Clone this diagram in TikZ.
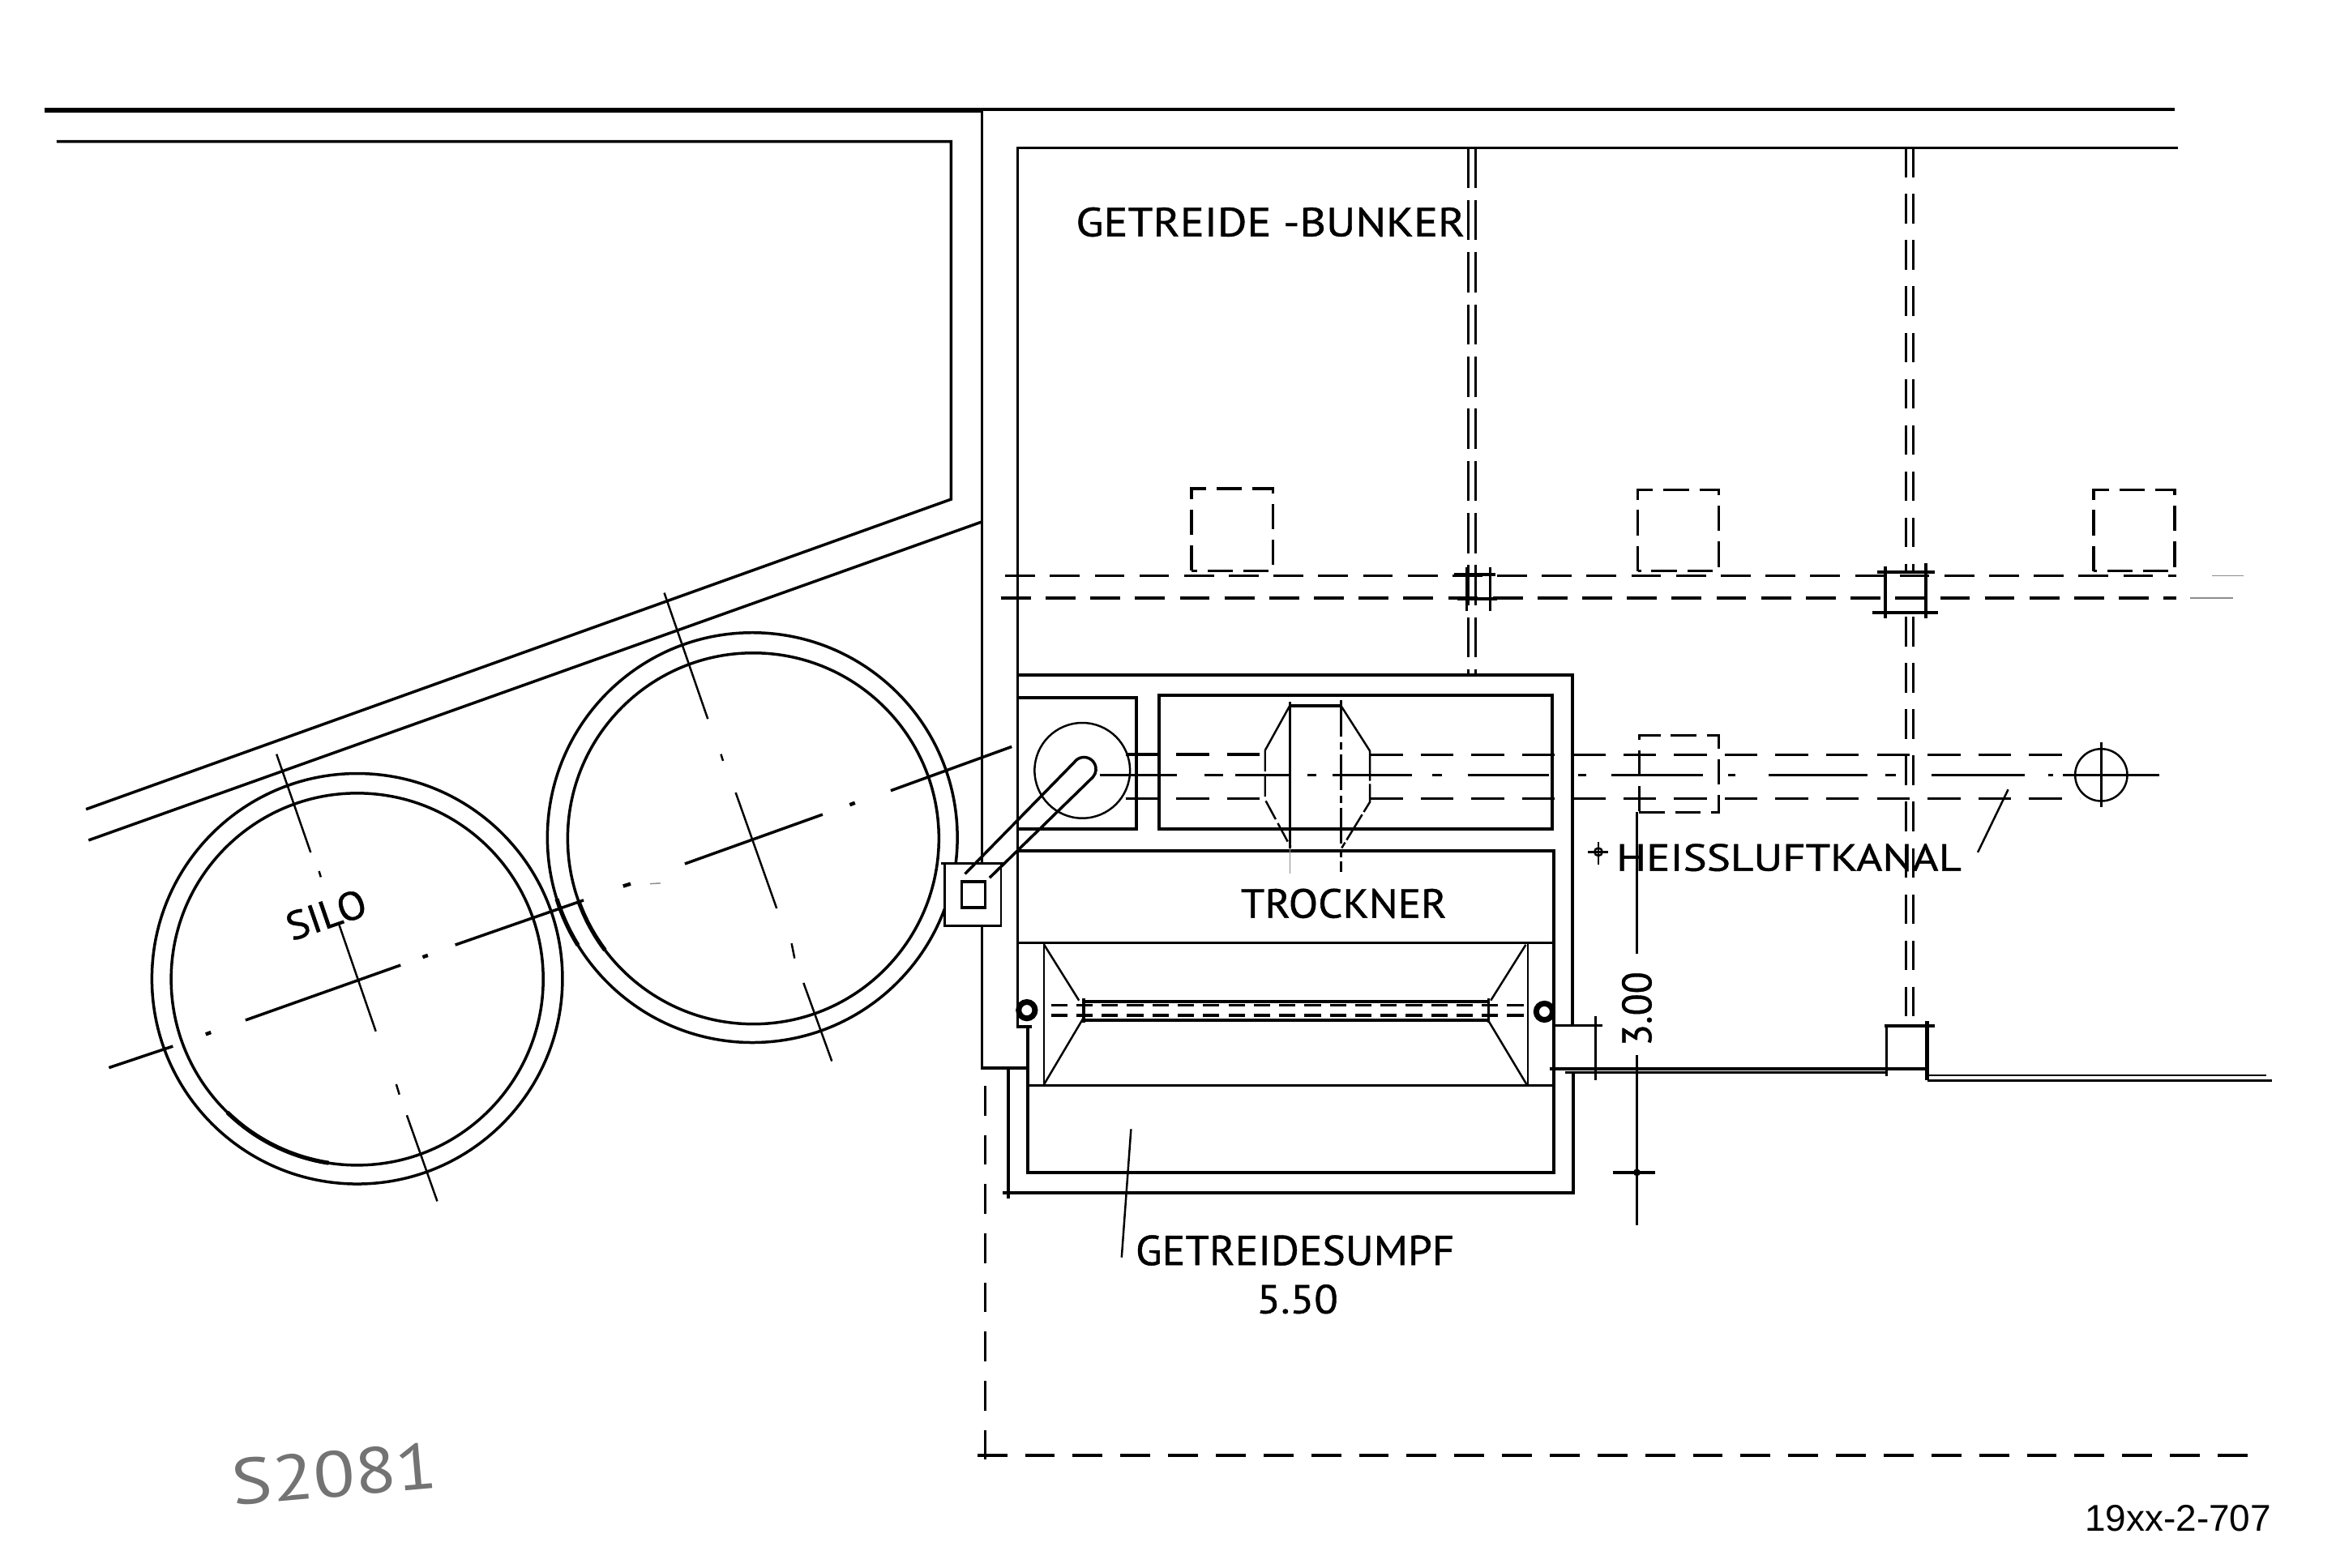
\documentclass[tikz,border=0pt]{standalone}
\usepackage{graphicx}
\usepackage{fontspec}
\setmainfont{Liberation Sans}
\newfontfamily\draftfont[FakeBold=0.8]{PT Sans}
\newfontfamily\handfont{PT Sans}
\newcommand{\lettered}[3]{\resizebox{#1pt}{#2pt}{\draftfont #3}}
\newcommand{\handwritten}[3]{\resizebox{#1pt}{#2pt}{\handfont #3}}
\tikzset{
  wall/.style={line width=1.9pt,black},
  thinline/.style={line width=1.35pt,black},
  heavy/.style={line width=3pt,black},
  hiddenline/.style={line width=1.8pt,black,dash pattern=on 20pt off 10pt},
  gridline/.style={line width=1.6pt,black,dash pattern=on 27pt off 8pt},
  gridlineb/.style={line width=1.6pt,black,dash pattern=on 20pt off 11pt},
  squaredash/.style={line width=1.8pt,black,dash pattern=on 17pt off 7pt},
  ductline/.style={line width=1.8pt,black,dash pattern=on 22pt off 12pt},
  troughdash/.style={line width=1.7pt,black,dash pattern=on 11pt off 6pt},
  faint/.style={line width=.8pt,black!45},
  label/.style={inner sep=0pt,outer sep=0pt,text=black}
}
\begin{document}
\begin{tikzpicture}[x=1pt,y=-1pt]
\useasboundingbox (0,0) rectangle (1567,1052);
\fill[white] (0,0) rectangle (1567,1052);

% upper wall lines
\draw[heavy] (30,74) -- (658.6,74);
\draw[wall] (658.6,73.3) -- (1459,73.3);
\draw[wall] (38,95) -- (638,95) -- (638,335) -- (57.7,543);
\draw[wall] (659,350) -- (59.4,563.8);
\draw[wall] (1461,99.2) -- (682.6,99.2) -- (682.6,688.8);
\draw[wall] (658.8,73.3) -- (658.8,580);
\draw[wall] (658.8,621) -- (658.8,716.5) -- (689.4,716.5);

% silos
\draw[wall] (239.6,656.7) circle[radius=137.7];
\draw[wall] (239.6,657) circle[radius=124.8];
\draw[wall] (504.7,562) circle[radius=137.5];
\draw[wall] (505.3,562.6) circle[radius=124.5];
\draw[line width=2.8pt] (239.6,657) ++(98.8:124.8) arc[start angle=98.8,end angle=134.3,radius=124.8];
\draw[line width=2.8pt] (505.3,562.6) ++(143:124.5) arc[start angle=143,end angle=160,radius=124.5];
\draw[line width=2.8pt] (504.7,562) ++(148.3:137.5) arc[start angle=148.3,end angle=162.6,radius=137.5];

% silo axes
\draw[wall] (73.1,716.4) -- (116,702);
\draw[wall,line width=2.4pt] (138,694) -- (141.5,692.7);
\draw[wall] (164.7,684.5) -- (268.7,647.6);
\draw[wall,line width=2.4pt] (283.5,642.2) -- (287,641);
\draw[wall] (305.4,634) -- (391.5,604);
\draw[wall,line width=2.4pt] (418,594.6) -- (423,593);
\draw[faint] (436,593) -- (443,592.6);
\draw[wall] (459.4,579.6) -- (551.8,546.5);
\draw[wall,line width=2.4pt] (570,540) -- (573.5,538.7);
\draw[wall] (597.5,530.5) -- (678.7,501);
\draw[thinline] (185.5,506) -- (208.4,572);
\draw[thinline] (214,584.5) -- (215.2,588.5);
\draw[thinline] (227.1,619.3) -- (252.1,692);
\draw[thinline] (265.8,727.5) -- (267.9,734.4);
\draw[thinline] (272.9,748.3) -- (293.3,806);
\draw[thinline] (445.6,397.8) -- (474.8,482.4);
\draw[thinline] (483.6,506) -- (485,510.5);
\draw[thinline] (493.5,531.8) -- (521,609.5);
\draw[thinline] (531,633) -- (533,643);
\draw[thinline] (539,659.5) -- (558,712);

% discharge box beside the right silo
\node[draw=black,line width=1.5pt,fill=white,minimum width=37.7pt,minimum height=41.6pt,inner sep=0pt] (chute) at (652.7,600.2) {};
\node[draw=black,line width=1.9pt,minimum width=15.7pt,minimum height=17.5pt,inner sep=0pt] (chuteinner) at (652.9,600.2) {};
\draw[wall] (631,579.4) -- (673,579.4);

% outer pit wall
\draw[wall] (682.6,452.8) -- (1054.7,452.8) -- (1054.7,688);
\draw[wall] (1055.3,718.8) -- (1055.3,800.3) -- (672.8,800.3);
\draw[wall] (676.3,716.5) -- (676.3,804.4);

% elevator box
\draw[wall,line width=2.2pt] (682.6,468.3) -- (762.2,468.3) -- (762.2,556) -- (682.6,556);
\draw[thinline] (726,517) circle[radius=32];
\draw[wall,line width=1.9pt] (647.3,586.4) -- (720.6,511.5) arc[start angle=-145,end angle=42,radius=8] -- (663.8,589);

% drier casing
\draw[wall,line width=2.2pt] (777.5,466.5) rectangle (1041.3,556.4);
\draw[wall] (682.6,571) -- (1042.2,571) -- (1042.2,786.7) -- (689.4,786.7) -- (689.4,688.8);
\draw[wall] (682.6,632.6) -- (1042.2,632.6);
\draw[wall] (689.4,728.2) -- (1042.2,728.2);
\draw[wall] (681.6,688.8) -- (692,688.8);

% octagonal housing
\draw[wall,line width=2.2pt] (865.2,473.5) -- (899.5,473.5);
\draw[thinline] (865.2,473.5) -- (848.6,503.5);
\draw[thinline,dash pattern=on 14pt off 3pt] (848.6,503.5) -- (848.6,536.5) -- (865.8,568.4);
\draw[thinline] (899.5,473.5) -- (919,504);
\draw[thinline,dash pattern=on 20pt off 2pt] (919,504) -- (919,538) -- (900,569);
\draw[wall] (865.2,471) -- (865.2,569);
\draw[faint] (865.2,569) -- (865.2,586);
\draw[wall,dash pattern=on 24pt off 4pt on 5pt off 3pt] (899.5,470) -- (899.5,585);

% hot air duct
\draw[ductline] (755,506.2) -- (848.6,506.2);
\draw[ductline] (919,506.4) -- (1392,506.4);
\draw[ductline] (755,535.8) -- (848.6,535.8);
\draw[ductline] (919,536) -- (1395,536);
\foreach \a/\b in {737.8/789.3,808/820.6,828.4/864.3,876.8/883,894/947,960.8/967,984.4/1039,1058.7/1064,1080.9/1142.2,1159/1164.3,1186.4/1252.8,1264.7/1271.6,1295.4/1358.4,1373.7/1377,1384/1448.6}
  \draw[wall] (\a,520.2) -- (\b,520.2);
\draw[squaredash] (1099.6,545) -- (1153,545) -- (1153,493.6) -- (1099.6,493.6) -- (1099.6,550);
\draw[thinline] (1409.5,520) circle[radius=17.5];
\draw[thinline] (1409.5,498.3) -- (1409.5,541.4);

% hopper and screw trough
\draw[thinline] (700.4,633) -- (700.4,728);
\draw[thinline] (700.4,633.9) -- (723.8,671.3);
\draw[thinline] (726.3,683.8) -- (700.4,727.5);
\draw[thinline] (1025,633) -- (1025,728);
\draw[thinline] (1023.5,633.9) -- (1000,671.3);
\draw[thinline] (998.5,685) -- (1024,727.5);
\draw[wall,line width=2pt] (726.9,672) -- (998.5,672);
\draw[wall,line width=2pt] (726.9,684.5) -- (998.5,684.5);
\draw[wall] (726.9,670) -- (726.9,686);
\draw[wall] (998.5,670) -- (998.5,686);
\draw[troughdash] (705,674.3) -- (1026.6,674.3);
\draw[troughdash] (705,681.3) -- (1026.6,681.3);
\draw[line width=3.8pt,fill=white] (688.8,677.8) circle[radius=5.5];
\draw[line width=3.8pt,fill=white] (1036,678.8) circle[radius=5.5];

% grid lines and columns
\draw[hiddenline] (674.3,386.2) -- (1460,386.2);
\draw[hiddenline] (671.4,401.3) -- (1460,401.3);
\draw[faint] (1484,386.2) -- (1505,386.2);
\draw[faint] (1469,401.3) -- (1498,401.3);
\draw[gridline] (985,99.2) -- (985,452);
\draw[gridline] (989.9,99.2) -- (989.9,452);
\draw[wall] (983.8,380.8) -- (983.8,410);
\draw[wall] (999.6,380.8) -- (999.6,410);
\draw[wall,line width=2.3pt] (975.3,385.6) -- (1003.2,385.6);
\draw[wall,line width=2.3pt] (977.7,402) -- (1004.4,402);
\draw[gridlineb] (1278.4,99.2) -- (1278.4,383);
\draw[gridlineb] (1283.5,99.2) -- (1283.5,383);
\draw[gridlineb] (1278.4,414) -- (1278.4,687);
\draw[gridlineb] (1283.5,414) -- (1283.5,687);
\draw[wall,line width=2pt] (1264.7,380) -- (1264.7,415);
\draw[wall,line width=2pt] (1292,378) -- (1292,415);
\draw[wall,line width=2.3pt] (1259,383.7) -- (1298,383.7);
\draw[wall,line width=2.3pt] (1256,411) -- (1300,411);
\draw[wall] (1265.4,688.4) -- (1265.4,722);
\draw[wall,line width=2.3pt] (1292.7,685) -- (1292.7,725);
\draw[wall,line width=2.3pt] (1264,688.4) -- (1298,688.4);

% floor lines and column stubs
\draw[wall,line width=2.3pt] (1039.7,717) -- (1292.7,717);
\draw[thinline] (1050,719.7) -- (1265.4,719.7);
\draw[wall,line width=1.3pt] (1292.7,721.5) -- (1520,721.5);
\draw[wall,line width=1.9pt] (1292.7,725) -- (1524,725);
\draw[wall] (1041,688) -- (1075,688);
\draw[thinline] (1070.3,682) -- (1070.3,724.8);

% square footings
\draw[squaredash] (799.3,383) -- (799.3,327.9) -- (854,327.9) -- (854,383) -- cycle;
\draw[squaredash] (1098.6,383.2) -- (1098.6,328.5) -- (1153,328.5) -- (1153,383.2) -- cycle;
\draw[squaredash] (1404.4,383.2) -- (1404.4,328.5) -- (1458.8,328.5) -- (1458.8,383.2) -- cycle;

% dimension line
\draw[wall] (1098,545) -- (1098,640);
\draw[wall] (1098,708) -- (1098,822);
\draw[wall] (1081.8,786.7) -- (1110,786.7);
\fill[black] (1098,786.7) circle[radius=2.4];

% property line
\draw[wall,dash pattern=on 20pt off 13pt] (661,728.5) -- (661,981);
\draw[wall,line width=2.3pt,dash pattern=on 20pt off 12pt] (655.6,976.5) -- (1510,976.5);

% leaders and datum mark
\draw[thinline] (1347.1,529.7) -- (1326.7,571.9);
\draw[thinline] (758.7,757.6) -- (752.4,843.7);
\draw[thinline] (1072.2,571.6) circle[radius=2.6];
\draw[thinline] (1065,571.6) -- (1079,571.6);
\draw[thinline] (1072.2,565) -- (1072.2,580);

% labels
\node[label] (bunker) at (852.2,149) {\lettered{260.9}{19.4}{GETREIDE -BUNKER}};
\node[label] (silo) at (218.8,613.7) [rotate=19] {\lettered{55}{19}{SILO}};
\node[label] (trockner) at (901.4,606.2) {\lettered{138}{19.5}{TROCKNER}};
\node[label] (kanal) at (1200,575.4) {\lettered{231.5}{18.1}{HEISSLUFTKANAL}};
\node[label] (sumpf) at (868.7,839) {\lettered{213.9}{20}{GETREIDESUMPF}};
\node[label] (level) at (870.3,871.7) {\lettered{54.6}{19.3}{5.50}};
\node[label] (dim) at (1098,677) [rotate=90] {\lettered{50}{19.7}{3.00}};
\node[label,text=black!55] (stamp) at (224.5,989) [rotate=5] {\handwritten{138}{31}{S2081}};
\node[label] (number) at (1461,1019) {\fontsize{25}{30}\selectfont 19xx-2-707};
\end{tikzpicture}
\end{document}
